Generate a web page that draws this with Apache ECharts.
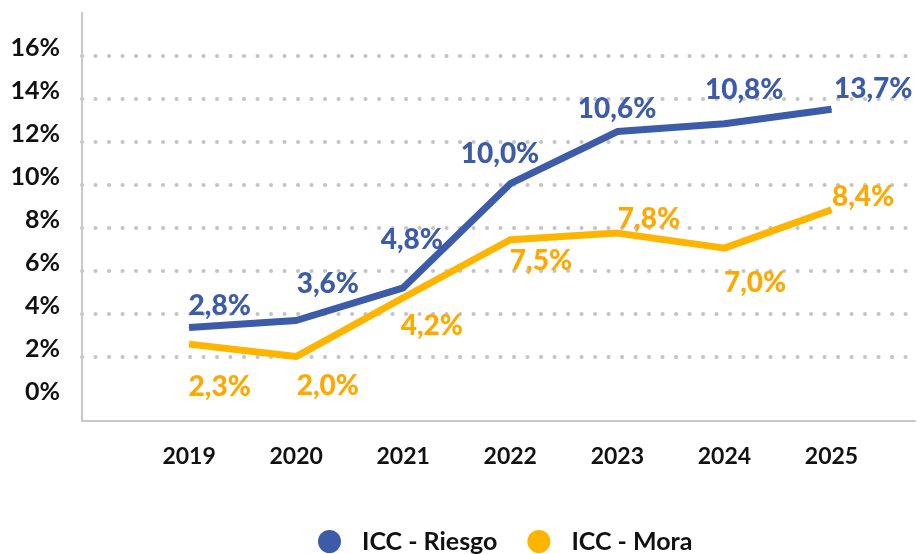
<!DOCTYPE html>
<html>
<head>
<meta charset="utf-8">
<script src="https://cdn.jsdelivr.net/npm/echarts@6/dist/echarts.min.js"></script>
<style>
  html, body { margin: 0; padding: 0; background: #fff; }
  #chart { width: 918px; height: 554px; }
</style>
</head>
<body>
<div id="chart"></div>
<script>
// years on the x axis
const years = [2019, 2020, 2021, 2022, 2023, 2024, 2025]
const riesgo = [3.35, 3.68, 5.2, 10.05, 12.48, 12.84, 13.52]
const mora = [2.58, 2.0, 4.74, 7.44, 7.75, 7.05, 8.84]
// printed label values
const riesgoLabels = [2.8, 3.6, 4.8, 10.0, 10.6, 10.8, 13.7]
const moraLabels = [2.3, 2.0, 4.2, 7.5, 7.8, 7.0, 8.4]
// y tick labels
const yTicks = [0, 2, 4, 6, 8, 10, 12, 14, 16]
const yGrid = [2, 4, 6, 8, 10, 12, 14, 16]

// label placement relative to each point
const riesgoOffsets = [[0, -21], [1, -36], [-22, -47], [-49, -29], [-39, -22], [-19, -33], [3, -20]]
const moraOffsets = [[0, 43], [1, 30], [-2, 29], [0, 22], [1, -14], [0, 35], [1, -12]]

const BLUE = '#3c5ba8'
const GOLD = '#ffb400'
const GOLD_TXT = '#ffa800'
const GRAY = '#c8c8c8'
const FONT = 'Lato'

const fmt = v => v.toFixed(1).replace('.', ',') + '%'

const buildData = (vals, labels, offsets) =>
  years.map((y, i) => ({
    value: [y, vals[i]],
    label: { offset: offsets[i], formatter: fmt(labels[i]) }
  }))

const chart = echarts.init(document.getElementById('chart'))

const option = {
  animation: false,
  grid: { left: 82, right: 0, top: 13, bottom: 133 },
  legend: {
    left: 313,
    top: 524,
    icon: 'circle',
    itemWidth: 23,
    itemHeight: 23,
    itemGap: 30,
    textStyle: {
      fontFamily: FONT,
      fontWeight: 'bold',
      fontSize: 25,
      color: '#111',
      padding: [0, 0, 0, 16]
    },
    data: ['ICC - Riesgo', 'ICC - Mora']
  },
  xAxis: {
    type: 'value',
    min: 2018,
    max: 2025.78,
    interval: 1,
    axisLine: { show: true, onZero: false, lineStyle: { color: GRAY, width: 2 } },
    axisTick: { show: false },
    splitLine: { show: false },
    axisLabel: {
      margin: 24,
      fontFamily: FONT,
      fontWeight: 'bold',
      fontSize: 23,
      color: '#111',
      formatter: v => (years.includes(v) ? String(v) : '')
    }
  },
  yAxis: {
    type: 'value',
    min: -1,
    max: 18,
    axisLine: { show: true, onZero: false, lineStyle: { color: GRAY, width: 2 } },
    axisTick: { show: false, customValues: yGrid },
    splitLine: {
      show: true,
      lineStyle: { color: '#c4c4c4', width: 4, type: [0.1, 13.4], cap: 'round' }
    },
    axisLabel: {
      customValues: yTicks,
      margin: 22,
      fontFamily: FONT,
      fontWeight: 'bold',
      fontSize: 25,
      color: '#111',
      verticalAlign: 'bottom',
      lineHeight: 16,
      formatter: v => v + '%'
    }
  },
  series: [
    {
      name: 'ICC - Riesgo',
      type: 'line',
      data: buildData(riesgo, riesgoLabels, riesgoOffsets),
      symbol: 'circle',
      symbolSize: 1,
      color: BLUE,
      lineStyle: { width: 7, color: BLUE },
      label: {
        show: true,
        position: [0, 0],
        align: 'left',
        verticalAlign: 'middle',
        fontFamily: FONT,
        fontWeight: 900,
        fontSize: 28,
        color: BLUE
      }
    },
    {
      name: 'ICC - Mora',
      type: 'line',
      data: buildData(mora, moraLabels, moraOffsets),
      symbol: 'circle',
      symbolSize: 1,
      color: GOLD,
      lineStyle: { width: 7, color: GOLD },
      label: {
        show: true,
        position: [0, 0],
        align: 'left',
        verticalAlign: 'middle',
        fontFamily: FONT,
        fontWeight: 900,
        fontSize: 28,
        color: GOLD_TXT
      }
    }
  ]
}

chart.setOption(option)
</script>
</body>
</html>
